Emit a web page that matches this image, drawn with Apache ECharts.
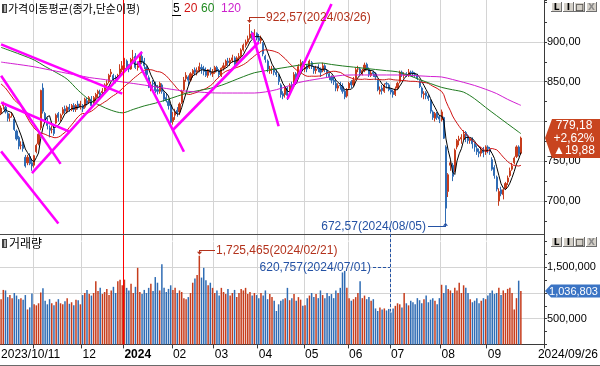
<!DOCTYPE html>
<html>
<head>
<meta charset="utf-8">
<script src="https://cdn.jsdelivr.net/npm/echarts@6/dist/echarts.min.js"></script>
<style>
html,body{margin:0;padding:0;background:#fff;}
#chart{width:600px;height:366px;}
</style>
</head>
<body>
<div id="chart"></div>
<script>
// ================= DATA =================
const tradingDays = [
  ['2023/10', [11,12,13,16,17,18,19,20,23,24,25,26,27,30,31]],
  ['2023/11', [1,2,3,6,7,8,9,10,13,14,15,16,17,20,21,22,23,24,27,28,29,30]],
  ['2023/12', [1,4,5,6,7,8,11,12,13,14,15,18,19,20,21,22,26,27,28]],
  ['2024/01', [2,3,4,5,8,9,10,11,12,15,16,17,18,19,22,23,24,25,26,29,30,31]],
  ['2024/02', [1,2,5,6,7,8,13,14,15,16,19,20,21,22,23,26,27,28,29]],
  ['2024/03', [4,5,6,7,8,11,12,13,14,15,18,19,20,21,22,25,26,27,28,29]],
  ['2024/04', [1,2,3,4,5,8,9,11,12,15,16,17,18,19,22,23,24,25,26,29,30]],
  ['2024/05', [2,3,7,8,9,10,13,14,16,17,20,21,22,23,24,27,28,29,30,31]],
  ['2024/06', [3,4,5,7,10,11,12,13,14,17,18,19,20,21,24,25,26,27,28]],
  ['2024/07', [1,2,3,4,5,8,9,10,11,12,15,16,17,18,19,22,23,24,25,26,29,30,31]],
  ['2024/08', [1,2,5,6,7,8,9,12,13,14,16,19,20,21,22,23,26,27,28,29,30]],
  ['2024/09', [2,3,4,5,6,9,10,11,12,13,19,20,23,24,25,26]]
];
const monthLabels = ['2023/10/11','','12','2024','02','03','04','05','06','07','08','09'];
const yearStartDate = '2024/01/02';
const endDateLabel = '2024/09/26';

const openPrice = [
  810,820,818,810,805,808,803,788,780,770,772,755,748,756,748,
  745,762,772,792,842,810,798,792,790,791,798,810,804,810,816,812,818,815,820,815,822,818,
  820,818,826,825,828,822,830,835,836,836,840,846,850,860,858,855,855,860,865,
  872,876,868,866,880,882,868,872,882,876,868,855,842,848,848,840,838,846,836,830,825,820,
  800,808,814,812,824,840,854,856,852,860,865,862,864,868,866,864,858,865,860,
  862,868,864,858,867,870,876,874,877,880,872,880,882,890,896,900,905,912,906,911,
  905,902,898,882,876,864,866,866,862,858,846,835,834,842,836,846,848,860,856,866,874,
  866,870,868,874,868,864,868,866,864,870,864,860,856,852,848,842,846,844,838,832,
  842,850,846,854,866,866,860,864,872,866,858,862,860,852,838,842,838,848,846,
  840,838,834,842,850,862,858,860,858,862,862,860,858,850,842,834,836,832,826,812,804,810,806,
  802,805,768,712,745,745,738,768,776,778,778,786,782,776,778,772,766,762,760,764,762,
  768,765,752,742,730,700,714,708,716,724,732,740,748,756,768,760
];
const highPrice = [
  820,825,820,812,810,812,805,790,782,775,775,758,758,760,752,
  758,772,785,840,848,812,805,795,795,796,810,812,810,818,820,820,822,822,823,822,826,826,
  822,830,830,832,832,832,836,840,840,842,848,852,860,866,860,858,860,872,876,
  880,878,872,880,890,886,875,885,888,880,870,858,850,852,850,846,850,848,838,836,828,822,
  812,816,818,824,840,856,862,858,862,866,868,868,874,872,870,868,866,868,866,
  870,870,866,868,874,878,880,880,884,882,882,886,892,898,903,908,922.57,914,916,912,
  910,908,900,884,878,870,870,868,866,860,848,838,845,844,848,850,862,862,872,878,876,
  872,872,878,876,870,870,872,868,874,872,866,862,858,856,852,848,850,848,840,842,
  850,852,856,868,870,868,866,874,874,868,864,864,862,854,844,846,848,850,848,
  842,840,844,850,864,864,862,862,866,864,864,862,860,852,844,838,838,834,828,814,812,812,808,
  815,806,770,735,750,748,766,778,782,784,789,788,784,780,780,774,770,766,768,768,770,
  770,768,755,745,732,716,718,716,724,732,742,748,756,770,770,781
];
const lowPrice = [
  808,815,810,800,800,805,788,776,765,765,762,742,745,745,738,
  742,760,770,789,810,798,790,780,785,782,797,800,800,808,810,810,812,813,812,812,815,815,
  812,816,820,822,818,820,826,830,830,833,838,842,848,856,848,848,852,856,862,
  866,864,862,865,876,866,864,870,872,866,856,842,838,842,836,834,835,835,825,824,815,797,
  796,802,806,808,822,838,850,846,850,855,858,858,862,860,858,856,855,858,856,
  860,862,856,856,864,868,870,870,874,870,870,876,880,888,893,898,903,904,904,902,
  898,898,882,874,862,860,860,858,856,846,830,828,830,827,834,840,846,850,855,866,864,
  862,862,866,866,860,860,862,856,862,862,856,852,848,846,838,838,840,835,828,830,
  840,842,844,852,862,858,858,862,864,856,856,856,852,838,834,834,836,842,838,
  834,830,832,840,848,856,854,856,856,858,856,856,852,842,830,828,828,826,810,802,800,802,798,
  800,778,672.57,705,738,725,736,765,770,772,776,774,772,772,766,762,758,755,756,755,758,
  760,758,738,728,712,694,706,702,714,720,730,738,746,754,756,758
];
const closePrice = [
  817,822,812,804,806,808,790,778,769,770,766,744,755,747,744,
  757,770,784,839,813,800,795,789,790,785,808,805,808,815,813,818,815,820,815,820,818,822,
  816,828,823,830,820,830,834,838,833,838,846,848,858,862,852,853,858,866,870,
  879,866,866,878,880,868,870,883,875,870,859,843,846,847,839,838,848,838,828,826,820,799,
  805,812,810,822,838,852,858,852,860,864,862,864,869,866,863,858,865,862,862,
  868,864,859,867,870,876,874,877,880,872,880,882,890,896,900,904,910,906,911,905,
  902,905,885,878,866,866,866,862,859,850,834,832,842,833,845,845,859,855,869,874,869,
  868,866,876,870,864,866,866,862,870,866,860,856,852,850,842,845,845,838,831,840,
  848,846,852,865,866,861,864,871,866,859,861,860,856,840,840,839,846,847,840,
  837,834,841,848,862,859,859,859,862,861,860,859,854,844,835,835,832,829,813,805,810,805,803,
  812,779,691,733,748,731,764,776,778,780,784,782,776,778,772,768,762,760,764,761,768,
  766,762,740,732,715,712,709,714,722,729,738,744,754,768,759.30,779.18
];
const volume = [
  880000,1060000,1050000,920000,960000,900000,1000000,950000,880000,900000,870000,960000,680000,720000,990000,
  780000,760000,800000,1010000,1090000,850000,780000,880000,800000,760000,830000,880000,800000,780000,840000,900000,790000,820000,760000,870000,860000,780000,
  960000,1000000,1060000,980000,950000,1000000,1230000,1040000,1100000,980000,1020000,1080000,960000,1050000,1120000,1000000,1230000,1260000,1150000,
  1260000,1100000,1050000,1180000,1000000,1120000,1490000,1020000,980000,1060000,1000000,1100000,1180000,1040000,1310000,1200000,1050000,1560000,1100000,1020000,1080000,1150000,
  1060000,1100000,1000000,1050000,1020000,900000,880000,920000,1000000,1200000,1280000,1350000,1725465,1300000,1490000,1250000,1150000,1200000,1100000,
  1000000,1050000,950000,1100000,1020000,980000,1080000,950000,1000000,1060000,920000,1000000,1080000,1050000,1100000,980000,1020000,950000,1000000,960000,
  900000,1000000,950000,1050000,880000,980000,920000,850000,650000,780000,850000,880000,900000,1100000,860000,900000,980000,850000,920000,870000,750000,
  760000,900000,950000,1000000,920000,980000,900000,1050000,960000,900000,1000000,940000,980000,900000,1050000,1000000,1100000,1400000,1430000,1100000,
  900000,850000,880000,920000,1000000,1230000,900000,950000,880000,920000,850000,880000,700000,650000,720000,680000,700000,660000,690000,
  620757,700000,750000,800000,780000,720000,1000000,800000,760000,850000,820000,780000,900000,860000,800000,880000,950000,820000,870000,900000,850000,780000,900000,
  1160000,1000000,1150000,1080000,1050000,1000000,1100000,1050000,1200000,1000000,1150000,1100000,1000000,880000,820000,850000,900000,800000,850000,900000,880000,
  950000,1000000,1050000,980000,1000000,1100000,960000,1050000,1000000,1080000,1100000,1000000,680000,900000,1240000,1036803
];
const ma5Head = [809, 812, 815, 813];
const ma20Head = [847.2,844.7,842.1,838.4,834.6,830.8,827.0,824.5,822.0,819.5,814.5,809.4,804.4,799.4,795.6,791.8,789.0,787.0,785.8];
// 60 / 120 day averages every 5 trading days (last = final day)
const MA_STEP = 5;
const ma60Read = [893.2,888.2,883.0,877.4,869.2,861.6,853.2,839.2,827.5,820.0,814.1,810.9,815.2,819.6,823.0,827.2,831.8,836.2,839.0,841.7,845.5,850.9,856.4,861.3,863.8,866.2,868.4,870.7,872.2,873.6,871.7,869.9,868.4,866.9,865.4,863.9,862.5,858.0,852.8,847.7,842.9,839.9,836.9,828.6,817.7,807.3,797.0,786.8,784.7];
const ma120Read = [874.7,872.8,870.9,868.8,866.0,863.3,860.6,858.0,855.3,853.5,851.6,849.8,847.8,845.8,843.6,841.5,839.4,837.9,837.0,836.1,835.8,835.8,835.8,835.8,837.2,840.0,844.3,848.9,851.7,854.0,856.3,858.1,858.5,858.5,858.5,858.5,858.5,858.0,857.4,856.6,856.0,852.8,849.2,845.3,840.5,835.1,827.8,821.5,820.3];
// user-drawn trend lines: [date1, price1, date2, price2]
const trendLines = [
  ['2023/10/11', 897.0, '2023/12/28', 835.0],
  ['2023/10/11', 857.6, '2023/11/17', 746.7],
  ['2023/10/11', 823.9, '2023/11/23', 787.2],
  ['2023/10/11', 762.4, '2023/11/16', 671.7],
  ['2023/10/31', 735.2, '2024/01/12', 887.4],
  ['2024/01/10', 875.8, '2024/02/08', 761.9],
  ['2024/02/01', 789.3, '2024/04/01', 899.7],
  ['2024/03/27', 911.7, '2024/04/15', 794.0],
  ['2024/04/19', 828.2, '2024/05/22', 947.7]
];
const priceTicks = [700, 750, 850, 900];     // 800 is covered by the last-price badge
const volTicks = [500000, 1500000];          // 1,000,000 is covered by the volume badge

// ================= BUILD =================
const dates = [];
const monthStartIdx = [];
tradingDays.forEach(([ym, days]) => {
  monthStartIdx.push(dates.length);
  days.forEach(d => dates.push(ym + '/' + String(d).padStart(2, '0')));
});
const PAD = 10;
const cats = dates.concat(Array.from({length: PAD}, (_, k) => '~' + k));
const labelAt = {};
monthStartIdx.forEach((idx, k) => { if (monthLabels[k]) labelAt[idx] = monthLabels[k]; });
const gridAt = new Set(monthStartIdx.filter(i => i > 0));

function sma(n, head) {
  return closePrice.map((c, i) => {
    if (i < n - 1) return head[i];
    let s = 0; for (let j = i - n + 1; j <= i; j++) s += closePrice[j];
    return +(s / n).toFixed(2);
  });
}
function sampled(vals) {
  const arr = new Array(dates.length).fill(null);
  vals.forEach((v, k) => { arr[Math.min(k * MA_STEP, dates.length - 1)] = v; });
  return arr;
}
const ma5 = sma(5, ma5Head);
const ma20 = sma(20, ma20Head);
const ma60 = sampled(ma60Read);
const ma120 = sampled(ma120Read);

const UP = '#c63c1c', DOWN = '#2f6cb4';
const GRID = '#d4d4d4', AX = '#3a3a3a', T = 'rgba(0,0,0,0)';
const FONT = '"Liberation Sans", Arial, sans-serif';
const KFONT = '"Noto Sans CJK KR", sans-serif';

const candleData = dates.map((d, i) => [openPrice[i], closePrice[i], lowPrice[i], highPrice[i]]);
const volData = volume.map((v, i) => ({value: v, itemStyle: {color: closePrice[i] >= openPrice[i] ? UP : DOWN}}));

const option = {
  animation: false,
  backgroundColor: '#ffffff',
  textStyle: {fontFamily: FONT},
  grid: [
    {left: 0, top: 0, width: 544, height: 240.75, containLabel: false, outerBoundsMode: 'none'},
    {left: 0, top: 241.6, width: 544, height: 102.8, containLabel: false, outerBoundsMode: 'none'}
  ],
  xAxis: [
    {type: 'category', gridIndex: 0, data: cats, boundaryGap: true,
     axisLine: {show: false}, axisTick: {show: false}, axisLabel: {show: false},
     splitLine: {show: true, interval: (i) => gridAt.has(i), lineStyle: {color: GRID, width: 1}}},
    {type: 'category', gridIndex: 1, data: cats, boundaryGap: true,
     axisLine: {show: true, lineStyle: {color: AX, width: 1}},
     axisTick: {show: true, interval: (i) => gridAt.has(i), length: 4, lineStyle: {color: AX}},
     axisLabel: {show: true, interval: (i) => labelAt[i] !== undefined, align: 'left', margin: 4,
       fontSize: 12, color: '#000', fontFamily: FONT,
       formatter: (v, i) => { const t = labelAt[i] || ''; return t === '2024' ? '{b|2024}' : t; },
       rich: {b: {fontWeight: 'bold', fontSize: 12, fontFamily: FONT, color: '#000'}}},
     splitLine: {show: true, interval: (i) => gridAt.has(i), lineStyle: {color: GRID, width: 1}}}
  ],
  yAxis: [
    {type: 'value', gridIndex: 0, position: 'right', min: 650, max: 952.8, interval: 50, scale: false,
     axisLine: {show: true, lineStyle: {color: AX}},
     axisTick: {show: true, length: 3, lineStyle: {color: AX}},
     minorTick: {show: true, splitNumber: 2, length: 3, lineStyle: {color: AX}},
     axisLabel: {show: true, margin: 3, fontSize: 11, color: '#000', fontFamily: FONT,
       formatter: (v) => priceTicks.includes(v) ? v.toFixed(2).replace('.', ',') : ''},
     splitLine: {show: true, lineStyle: {color: [T, GRID, GRID, GRID, GRID, GRID, T, T], width: 1}}},
    {type: 'value', gridIndex: 1, position: 'right', min: 0, max: 2000000, interval: 500000,
     axisLine: {show: true, lineStyle: {color: AX}},
     axisTick: {show: true, length: 3, lineStyle: {color: AX}},
     minorTick: {show: true, splitNumber: 2, length: 3, lineStyle: {color: AX}},
     axisLabel: {show: true, margin: 3, fontSize: 11, color: '#000', fontFamily: FONT,
       formatter: (v) => volTicks.includes(v) ? v.toLocaleString('en-US') : ''},
     splitLine: {show: true, lineStyle: {color: [T, GRID, GRID, GRID, T], width: 1}}}
  ],
  series: [
    {type: 'candlestick', name: 'price', xAxisIndex: 0, yAxisIndex: 0, data: candleData, barWidth: 1.6,
     itemStyle: {color: UP, color0: DOWN, borderColor: UP, borderColor0: DOWN, borderWidth: 1}, z: 2},
    {type: 'line', name: 'MA5', xAxisIndex: 0, yAxisIndex: 0, data: ma5, symbol: 'none', showSymbol: false,
     lineStyle: {color: '#000000', width: 1}, z: 3},
    {type: 'line', name: 'MA20', xAxisIndex: 0, yAxisIndex: 0, data: ma20, symbol: 'none', showSymbol: false,
     lineStyle: {color: '#d01414', width: 1}, z: 3},
    {type: 'line', name: 'MA60', xAxisIndex: 0, yAxisIndex: 0, data: ma60, symbol: 'none', showSymbol: false,
     connectNulls: true, smooth: 0.3, lineStyle: {color: '#1f7a1f', width: 1}, z: 3},
    {type: 'line', name: 'MA120', xAxisIndex: 0, yAxisIndex: 0, data: ma120, symbol: 'none', showSymbol: false,
     connectNulls: true, smooth: 0.3, lineStyle: {color: '#d21ed2', width: 1}, z: 3},
    {type: 'lines', name: 'trend', coordinateSystem: 'cartesian2d', xAxisIndex: 0, yAxisIndex: 0,
     clip: true, silent: true, z: 4,
     data: trendLines.map(t => ({coords: [[dates.indexOf(t[0]), t[1]], [dates.indexOf(t[2]), t[3]]]})),
     lineStyle: {color: '#ff00ff', width: 2.6, opacity: 1, curveness: 0}},
    {type: 'bar', name: 'volume', xAxisIndex: 1, yAxisIndex: 1, data: volData, barWidth: 1.5, z: 2}
  ]
};

const chart = echarts.init(document.getElementById('chart'), null, {renderer: 'canvas'});
chart.setOption(option);

// ================= OVERLAYS (positions from the chart's own scales) =================
const P = (i, v) => chart.convertToPixel({seriesIndex: 0}, [i, v]);
const VP = (i, v) => chart.convertToPixel({seriesIndex: 6}, [i, v]);
const fmt2 = v => v.toFixed(2).replace('.', ',');
const fmtI = v => v.toLocaleString('en-US');
const RED_T = '#b3321c', BLUE_T = '#2452a4';

function txt(x, y, text, o) {
  return {type: 'text', x: x, y: y, z: 120, zlevel: 1, silent: true,
    style: Object.assign({text: text, fill: '#000', font: '12px ' + FONT,
      align: 'left', verticalAlign: 'middle', textAlign: 'left', textVerticalAlign: 'middle'}, o || {})};
}
function box(x, y, w, h, fill) {
  return {type: 'rect', z: 110, zlevel: 1, silent: true, shape: {x, y, width: w, height: h}, style: {fill, stroke: null}};
}
// axis-aligned 1px line drawn as a filled rect (optionally dashed)
function ln(x1, y1, x2, y2, color, dash) {
  const out = [];
  const vertical = Math.abs(x1 - x2) < Math.abs(y1 - y2);
  const a = vertical ? Math.min(y1, y2) : Math.min(x1, x2);
  const b = vertical ? Math.max(y1, y2) : Math.max(x1, x2);
  const on = dash ? dash[0] : (b - a), off = dash ? dash[1] : 0;
  for (let s = a; s < b; s += on + off) {
    const e = Math.min(b, s + on);
    if (vertical) out.push(box(Math.floor(x1), s, 1, e - s, color));
    else out.push(box(s, Math.floor(y1), e - s, 1, color));
  }
  return out;
}
function poly(points, fill) {
  return {type: 'polygon', z: 110, zlevel: 1, silent: true, shape: {points}, style: {fill, stroke: null}};
}
function buttons(y, h) {
  const out = []; const xs = [551, 562.5, 574, 585.5];
  const labs = ['L', 'I', '□', 'X'];
  xs.forEach((x, k) => {
    const X = Math.round(x);
    out.push(box(X, y, 11, h, '#6e6e6e'));
    out.push(box(X, y, 10, h - 1, '#ffffff'));
    out.push(box(X + 1, y + 1, 9, h - 2, '#d4d0c8'));
    out.push(txt(X + 5.5, y + h / 2 + 0.5, labs[k], {fill: k === 3 ? '#8a8a8a' : '#000',
      font: 'bold 9px "DejaVu Sans"', align: 'center', textAlign: 'center'}));
  });
  return out;
}

const N = dates.length;
let hiIdx = 0, loIdx = 0, vMax = 0, vMin = 0;
for (let i = 0; i < N; i++) {
  if (highPrice[i] > highPrice[hiIdx]) hiIdx = i;
  if (lowPrice[i] < lowPrice[loIdx]) loIdx = i;
  if (volume[i] > volume[vMax]) vMax = i;
  if (volume[i] < volume[vMin]) vMin = i;
}
const last = N - 1;
let els = [];
const add = (e) => { els = els.concat(e); };
// year separator (left edge of the first 2024 band)
{
  const yi = dates.indexOf(yearStartDate);
  const band = P(yi + 1, 800)[0] - P(yi, 800)[0];
  const x = P(yi, 800)[0] - band / 2;
  const [, yBottom] = VP(yi, 0);
  add(ln(x, 0, x, yBottom, '#ff0000'));
}
// pane separators
add(ln(0, 234, 544, 234, '#4a4a4a'));
add(ln(0, 365, 600, 365, '#6a6a6a'));
// title (price pane)
add(box(2, 4, 5, 9, '#404040'));
add(box(4, 5, 2, 7, '#b0b0b0'));
add(txt(8, 9, '가격이동평균(종가,단순이평)', {font: '11px ' + KFONT}));
add(txt(173, 9, '5', {font: '12px ' + FONT, fill: '#000'}));
add(ln(172, 15, 181, 15, '#000000'));
add(txt(184, 9, '20', {font: '12px ' + FONT, fill: '#d01414'}));
add(txt(201, 9, '60', {font: '12px ' + FONT, fill: '#1f8a1f'}));
add(txt(221, 9, '120', {font: '12px ' + FONT, fill: '#cc22cc'}));
// title (volume pane)
add(box(2, 239, 5, 9, '#404040'));
add(box(4, 240, 2, 7, '#b0b0b0'));
add(txt(9, 243.5, '거래량', {font: '12px ' + KFONT}));
// window buttons
add(buttons(2, 10));
add(buttons(237, 10));
// end date label
add(txt(598, 355, endDateLabel, {align: 'right', textAlign: 'right'}));

// highest price annotation
{
  const [x, y] = P(hiIdx, highPrice[hiIdx]);
  const xs = Math.floor(x), ly = Math.round(y - 7);
  add(ln(xs, ly, xs + 16, ly, RED_T));
  add(ln(xs, ly, xs, y - 3, RED_T));
  add(poly([[xs - 2, y - 4], [xs + 3, y - 4], [xs + 0.5, y - 1]], RED_T));
  add(txt(xs + 17, ly + 0.5, fmt2(highPrice[hiIdx]) + '(' + dates[hiIdx] + ')', {fill: RED_T}));
}
// lowest price annotation
{
  const [x, y] = P(loIdx, lowPrice[loIdx]);
  const xs = Math.floor(x), ly = Math.round(y + 3);
  add(ln(xs - 17, ly, xs + 1, ly, BLUE_T));
  add(ln(xs, y + 1, xs, ly, BLUE_T));
  add(poly([[xs - 2, y + 3], [xs + 3, y + 3], [xs + 0.5, y]], BLUE_T));
  add(txt(xs - 19, ly + 0.5, fmt2(lowPrice[loIdx]) + '(' + dates[loIdx] + ')', {fill: BLUE_T, align: 'right', textAlign: 'right'}));
}
// max volume annotation
{
  const [x, y] = VP(vMax, volume[vMax]);
  const xs = Math.floor(x), ly = Math.round(y - 6);
  add(ln(xs, ly, xs + 16, ly, RED_T));
  add(ln(xs, ly, xs, y - 3, RED_T));
  add(poly([[xs - 2, y - 4], [xs + 3, y - 4], [xs + 0.5, y - 1]], RED_T));
  add(txt(xs + 17, ly + 0.5, fmtI(volume[vMax]) + '(' + dates[vMax] + ')', {fill: RED_T}));
}
// min volume annotation
{
  const [x, y] = VP(vMin, volume[vMin]);
  const [, yTop] = VP(vMin, 1500000);
  const xs = Math.floor(x), ly = Math.round(yTop);
  add(ln(xs - 17, ly, xs, ly, BLUE_T, [3, 2]));
  add(ln(xs, 229, xs, y - 1, BLUE_T, [3, 2]));
  add(txt(xs - 19, ly + 0.5, fmtI(volume[vMin]) + '(' + dates[vMin] + ')', {fill: BLUE_T, align: 'right', textAlign: 'right'}));
}
// last price badge
{
  const [, y] = P(last, closePrice[last]);
  const chg = closePrice[last] - closePrice[last - 1];
  const pct = chg / closePrice[last - 1] * 100;
  add(poly([[545, y], [552, y - 19], [600, y - 19], [600, y + 20], [552, y + 20]], '#c8441f'));
  const o = {fill: '#fff', font: '12px ' + FONT, align: 'center', textAlign: 'center'};
  add(txt(574, y - 12, fmt2(closePrice[last]), o));
  add(txt(574, y + 0.5, (chg >= 0 ? '+' : '') + fmt2(pct) + '%', o));
  add(txt(574, y + 12.5, (chg >= 0 ? '▲' : '▼') + fmt2(Math.abs(chg)), o));
}
// last volume badge
{
  const [, y] = VP(last, volume[last]);
  add(poly([[545, y], [551, y - 6.5], [600, y - 6.5], [600, y + 6.5], [551, y + 6.5]], '#3b74c4'));
  add(txt(573.5, y + 0.5, fmtI(volume[last]), {fill: '#fff', font: '11px ' + FONT, align: 'center', textAlign: 'center'}));
}
chart.setOption({graphic: {elements: els}});
</script>
</body>
</html>
